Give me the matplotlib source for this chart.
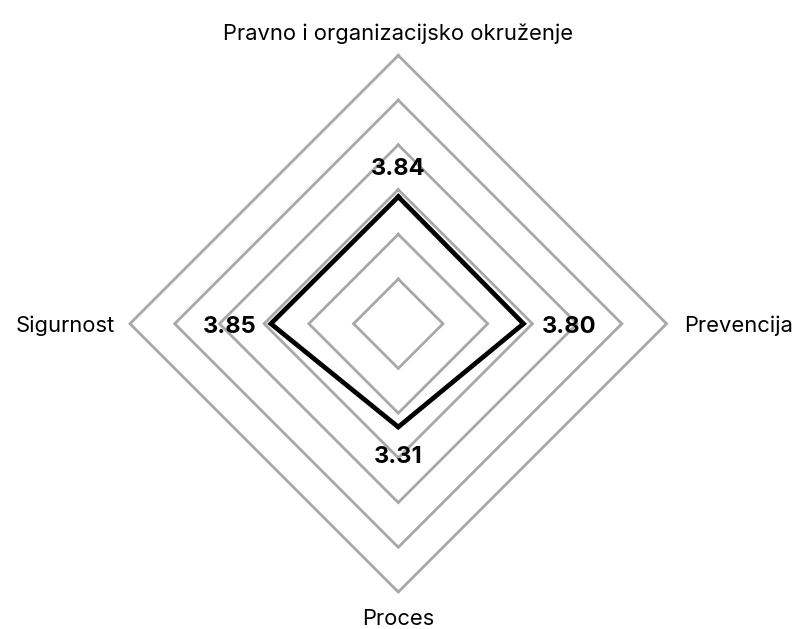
import matplotlib.pyplot as plt
import numpy as np

plt.rcParams['font.family'] = ['Inter', 'DejaVu Sans']

# categories clockwise from the top
categories = ['Pravno i organizacijsko okruženje', 'Prevencija', 'Proces', 'Sigurnost']
values = [3.84, 3.80, 3.31, 3.85]
value_labels = ['3.84', '3.80', '3.31', '3.85']
ring_levels = [2, 3, 4, 5, 6, 7]
r_min, r_max = 1, 7

fig = plt.figure(figsize=(7.94, 6.29), dpi=100)
ax = fig.add_axes([0.1637, 0.0588, 0.6758, 0.8531], projection='polar')
ax.set_theta_offset(np.pi / 2)
ax.set_theta_direction(-1)
ax.set_ylim(r_min, r_max)
ax.grid(False)
ax.spines['polar'].set_visible(False)
ax.set_xticks([])
ax.set_yticks([])
ax.patch.set_visible(False)

angles = np.linspace(0, 2 * np.pi, len(categories), endpoint=False)
closed = np.append(angles, angles[0])

# diamond grid rings
for lvl in ring_levels:
    ax.plot(closed, [lvl] * len(closed), color='#a8a8a8', lw=2.0,
            solid_joinstyle='miter', zorder=1, clip_on=False)

# data polygon
vals = values + [values[0]]
ax.plot(closed, vals, color='black', lw=3.4, solid_joinstyle='miter', zorder=3)

# value labels (offsets in points)
val_offsets = [((0, 15.6), 'center'), ((13, -6.5), 'left'),
               ((0, -26), 'center'), ((-10, -6.5), 'right')]
for a, v, t, (off, ha) in zip(angles, values, value_labels, val_offsets):
    ax.annotate(t, xy=(a, v), xytext=off, textcoords='offset points',
                ha=ha, va='baseline', fontsize=17, fontweight='bold',
                color='black', zorder=4)

# category labels
cat_offsets = [((0, 11), 'center'), ((13, -6.3), 'left'),
               ((0, -23.5), 'center'), ((-11, -6.3), 'right')]
for a, c, (off, ha) in zip(angles, categories, cat_offsets):
    ax.annotate(c, xy=(a, r_max), xytext=off, textcoords='offset points',
                ha=ha, va='baseline', fontsize=15.8, color='black')

fig.savefig('out.png', dpi=100, facecolor='white')
